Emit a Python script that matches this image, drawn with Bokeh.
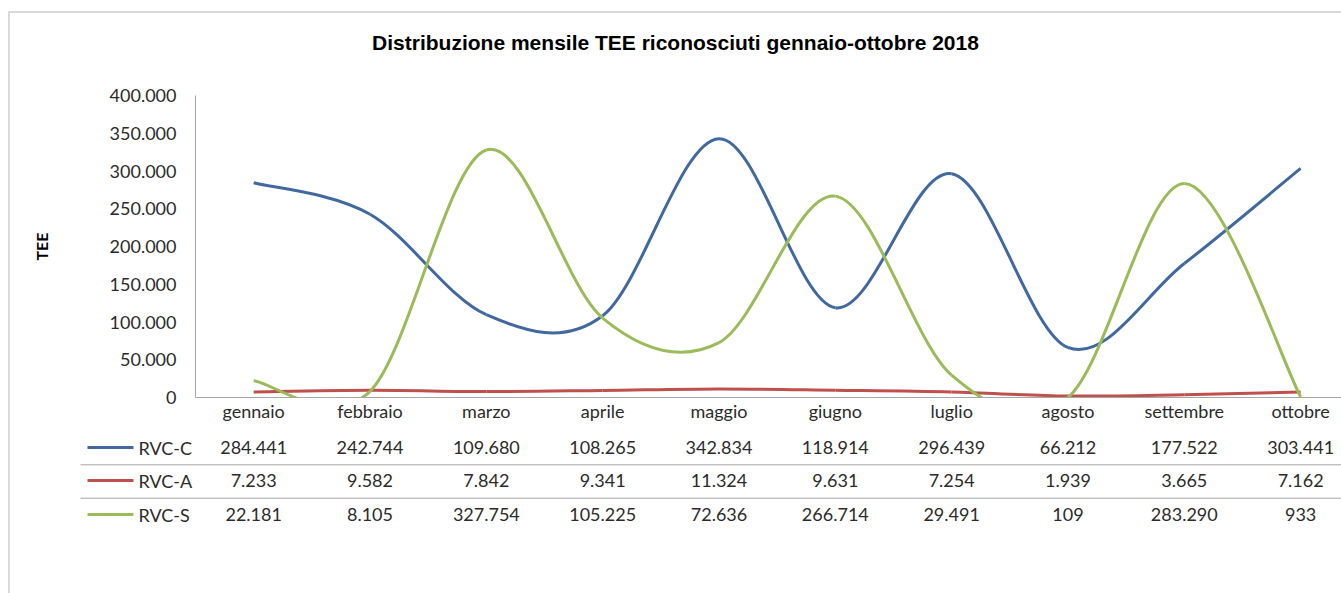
import numpy as np
from bokeh.plotting import figure
from bokeh.layouts import column
from bokeh.models import Range1d, FixedTicker, ColumnDataSource
from bokeh.core.properties import value
from bokeh.embed import file_html
from bokeh.resources import INLINE

# ---------------- data ----------------
months = ["gennaio", "febbraio", "marzo", "aprile", "maggio", "giugno",
          "luglio", "agosto", "settembre", "ottobre"]
rvc_c = [284441, 242744, 109680, 108265, 342834, 118914, 296439, 66212, 177522, 303441]
rvc_a = [7233, 9582, 7842, 9341, 11324, 9631, 7254, 1939, 3665, 7162]
rvc_s = [22181, 8105, 327754, 105225, 72636, 266714, 29491, 109, 283290, 933]
series_names = ["RVC-C", "RVC-A", "RVC-S"]
series_colors = ["#4169A0", "#C0504D", "#9BBB59"]
y_ticks = [0, 50000, 100000, 150000, 200000, 250000, 300000, 350000, 400000]
title_text = "Distribuzione mensile TEE riconosciuti gennaio-ottobre 2018"
y_title = "TEE"


def it_fmt(v):
    return f"{v:,}".replace(",", ".")


# ---------------- layout (px) ----------------
OX, OY = 10, 13                   # page offset of the figures (margin + border)
W = 1331
H0 = 60 - OY                      # title strip
H1 = 428 - 60                     # chart
H2 = 593 - 428                    # data table
FL, FT, FB = 195 - OX, 95 - 60, 397 - 60
STEP = 116.33
Y_MAX = 400000
X0 = -0.5
X1 = X0 + (W - FL) / STEP

LBL_FONT = "Lato"
LBL_SIZE = "18px"
TXT_COLOR = "#2B2B2B"
AX_COLOR = "#A6A6A6"


def bare_fig(h, xr, yr):
    f = figure(width=W, height=h, output_backend="svg", toolbar_location=None,
               x_range=xr, y_range=yr, tools="", x_axis_type=None, y_axis_type=None,
               min_border_left=0, min_border_right=0, min_border_top=0,
               min_border_bottom=0)
    f.outline_line_color = None
    f.xgrid.grid_line_color = None
    f.ygrid.grid_line_color = None
    return f


# ---------------- title strip ----------------
p0 = bare_fig(H0, Range1d(0, W), Range1d(H0, 0))
p0.text(x=[675 - OX], y=[42 - OY], text=[title_text], text_align="center",
        text_baseline="middle", text_font=value("Liberation Sans"),
        text_font_style="bold", text_font_size="21px", text_color="#000000")

# ---------------- chart ----------------
p1 = figure(width=W, height=H1, output_backend="svg", toolbar_location=None,
            x_range=Range1d(X0, X1), y_range=Range1d(0, Y_MAX), tools="",
            min_border_left=FL, min_border_right=0, min_border_top=FT,
            min_border_bottom=H1 - FB)
p1.outline_line_color = None
p1.xgrid.grid_line_color = None
p1.ygrid.grid_line_color = None
p1.border_fill_color = "white"

ya = p1.yaxis[0]
ya.ticker = FixedTicker(ticks=y_ticks)
ya.major_label_overrides = {v: it_fmt(v) for v in y_ticks}
ya.major_tick_line_color = None
ya.minor_tick_line_color = None
ya.major_tick_out = 0
ya.major_tick_in = 0
ya.major_label_standoff = 19
ya.axis_line_color = AX_COLOR
ya.major_label_text_font = LBL_FONT
ya.major_label_text_font_size = LBL_SIZE
ya.major_label_text_color = TXT_COLOR
ya.axis_label = y_title
ya.axis_label_text_font = LBL_FONT
ya.axis_label_text_font_style = "bold"
ya.axis_label_text_font_size = "16px"
ya.axis_label_text_color = "#000000"
ya.axis_label_standoff = 56

xa = p1.xaxis[0]
xa.ticker = FixedTicker(ticks=list(range(len(months))))
xa.major_label_overrides = {i: m for i, m in enumerate(months)}
xa.major_tick_line_color = None
xa.minor_tick_line_color = None
xa.major_tick_out = 0
xa.major_tick_in = 0
xa.major_label_standoff = 2
xa.axis_line_color = AX_COLOR
xa.major_label_text_font = LBL_FONT
xa.major_label_text_font_size = LBL_SIZE
xa.major_label_text_color = TXT_COLOR

xs = np.arange(len(months), dtype=float)
for vals, col in zip([rvc_c, rvc_a, rvc_s], series_colors):
    ys = np.asarray(vals, dtype=float)
    xp = np.concatenate([[xs[0]], xs, [xs[-1]]])
    yp = np.concatenate([[ys[0]], ys, [ys[-1]]])
    n = len(xs)
    cx0 = xs[:-1] + (xp[2:n + 1] - xp[0:n - 1]) / 6.0
    cy0 = ys[:-1] + (yp[2:n + 1] - yp[0:n - 1]) / 6.0
    cx1 = xs[1:] - (xp[3:n + 2] - xp[1:n]) / 6.0
    cy1 = ys[1:] - (yp[3:n + 2] - yp[1:n]) / 6.0
    p1.bezier(x0=xs[:-1], y0=ys[:-1], x1=xs[1:], y1=ys[1:],
              cx0=cx0, cy0=cy0, cx1=cx1, cy1=cy1, line_color=col, line_width=3)

# ---------------- data table ----------------
T0 = X0 - FL / STEP
T1 = T0 + W / STEP
p2 = bare_fig(H2, Range1d(T0, T1), Range1d(H2, 0))

for fig in (p0, p1, p2):
    if "frame_align" in fig.properties():
        fig.frame_align = False


def tx(page_x):
    return T0 + (page_x - OX) / STEP


def ty(page_y):
    return page_y - 428


row_y = [447, 480, 514]
sep_y = [464.3, 497.7]
for vals, py in zip([rvc_c, rvc_a, rvc_s], row_y):
    src = ColumnDataSource(dict(x=list(range(len(months))),
                                y=[ty(py)] * len(months),
                                t=[it_fmt(v) for v in vals]))
    p2.text(x="x", y="y", text="t", source=src, text_align="center",
            text_baseline="middle", text_font=value(LBL_FONT),
            text_font_size=LBL_SIZE, text_color=TXT_COLOR)

p2.segment(x0=[tx(87)] * 3, x1=[tx(133)] * 3, y0=[ty(v) for v in row_y],
           y1=[ty(v) for v in row_y], line_color=series_colors, line_width=3)
p2.text(x=[tx(138)] * 3, y=[ty(v) for v in row_y], text=series_names,
        text_align="left", text_baseline="middle", text_font=value(LBL_FONT),
        text_font_size=LBL_SIZE, text_color=TXT_COLOR)
p2.segment(x0=[tx(80)] * 2, x1=[T1] * 2, y0=[ty(v) for v in sep_y],
           y1=[ty(v) for v in sep_y], line_color=AX_COLOR, line_width=1)

root = column(p0, p1, p2, spacing=0, margin=(11, 0, 0, 8),
              styles={"border-left": "2px solid #D9D9D9",
                      "border-top": "2px solid #D9D9D9"})

open("out.html", "w").write(file_html(root, INLINE))
